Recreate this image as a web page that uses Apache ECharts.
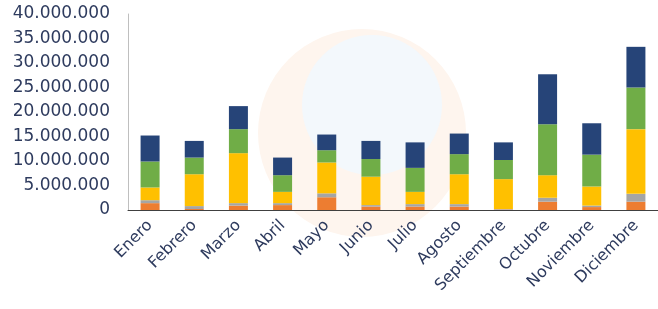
<!DOCTYPE html>
<html>
<head>
<meta charset="utf-8">
<script src="https://cdn.jsdelivr.net/npm/echarts@6/dist/echarts.min.js"></script>
<style>
  html, body { margin: 0; padding: 0; background: #fff; }
  #chart { width: 658px; height: 309px; }
</style>
</head>
<body>
<div id="chart"></div>
<script>
// meses
const months = ['Enero', 'Febrero', 'Marzo', 'Abril', 'Mayo', 'Junio', 'Julio', 'Agosto', 'Septiembre', 'Octubre', 'Noviembre', 'Diciembre']

// valores por serie (de abajo hacia arriba)
const orangeVals = [1400000, 200000, 900000, 1000000, 2600000, 700000, 700000, 700000, 100000, 1700000, 600000, 1700000]
const grayVals = [600000, 600000, 500000, 400000, 800000, 300000, 500000, 500000, 100000, 800000, 300000, 1600000]
const yellowVals = [2600000, 6500000, 10200000, 2300000, 6300000, 5800000, 2500000, 6100000, 6100000, 4600000, 3900000, 13200000]
const greenVals = [5300000, 3400000, 4900000, 3400000, 2500000, 3600000, 4900000, 4100000, 3900000, 10400000, 6500000, 8500000]
const navyVals = [5300000, 3400000, 4700000, 3600000, 3200000, 3700000, 5200000, 4200000, 3600000, 10200000, 6400000, 8300000]

const seriesList = [
  { name: 's1', data: orangeVals, color: '#ED7D31' },
  { name: 's2', data: grayVals, color: '#A5A5A5' },
  { name: 's3', data: yellowVals, color: '#FFC000' },
  { name: 's4', data: greenVals, color: '#70AD47' },
  { name: 's5', data: navyVals, color: '#264478' }
]

function fmt(v) {
  return String(v).replace(/\B(?=(\d{3})+(?!\d))/g, '.')
}

let myChart = echarts.init(document.getElementById('chart'))
myChart.setOption({
  animation: false,
  // marca de agua tenue del fondo
  graphic: [
    {
      type: 'circle',
      z: -10,
      silent: true,
      shape: { cx: 362, cy: 133, r: 104 },
      style: { fill: '#FEF5EE' }
    },
    {
      type: 'circle',
      z: -9,
      silent: true,
      shape: { cx: 372, cy: 105, r: 70 },
      style: { fill: '#F3F8FC' }
    }
  ],
  grid: { left: 128, right: -20, top: 14, bottom: 99 },
  xAxis: {
    type: 'category',
    data: months,
    axisLine: { lineStyle: { color: '#404040', width: 1 } },
    axisTick: { show: false },
    axisLabel: {
      interval: 0,
      rotate: 45,
      color: '#2E3B5E',
      fontFamily: 'DejaVu Sans',
      fontSize: 16,
      margin: 13
    }
  },
  yAxis: {
    type: 'value',
    min: 0,
    max: 40000000,
    interval: 5000000,
    axisLine: { show: true, lineStyle: { color: '#BFBFBF' } },
    axisTick: { show: false },
    splitLine: { show: false },
    axisLabel: {
      formatter: fmt,
      color: '#2E3B5E',
      fontFamily: 'DejaVu Sans',
      fontSize: 17,
      margin: 18
    }
  },
  series: seriesList.map(s => ({
    name: s.name,
    type: 'bar',
    stack: 'total',
    data: s.data,
    barWidth: 19,
    itemStyle: { color: s.color }
  }))
})
</script>
</body>
</html>
